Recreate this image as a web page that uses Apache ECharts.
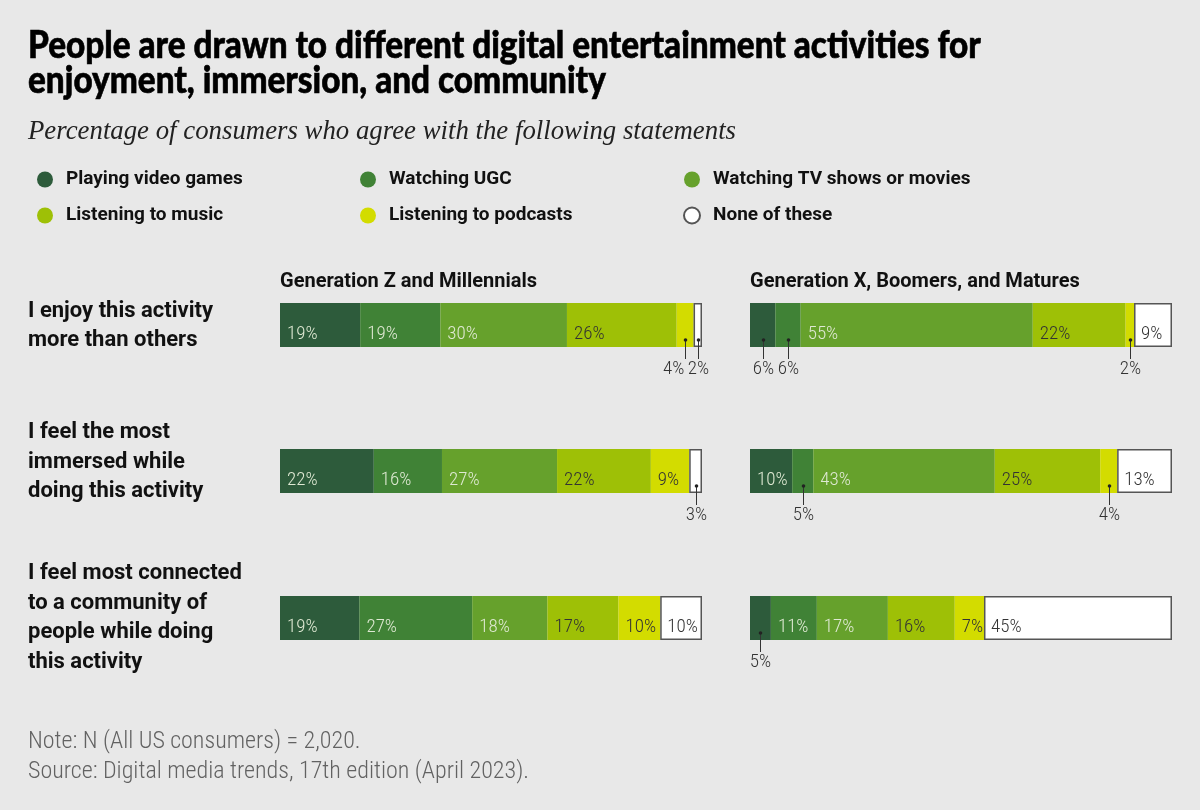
<!DOCTYPE html>
<html><head><meta charset="utf-8">
<script src="https://cdn.jsdelivr.net/npm/echarts@6/dist/echarts.min.js"></script>
<style>html,body{margin:0;padding:0;background:#e8e8e8}#c{width:1200px;height:810px}</style>
</head><body><div id="c"></div>
<script>
// ---------- data ----------
const seriesNames = ['Playing video games', 'Watching UGC', 'Watching TV shows or movies', 'Listening to music', 'Listening to podcasts', 'None of these'];
const statements = ['I enjoy this activity\nmore than others', 'I feel the most\nimmersed while\ndoing this activity', 'I feel most connected\nto a community of\npeople while doing\nthis activity'];
const groupNames = ['Generation Z and Millennials', 'Generation X, Boomers, and Matures'];
const genZMillennials = [
  [19, 19, 30, 26, 4, 2],
  [22, 16, 27, 22, 9, 3],
  [19, 27, 18, 17, 10, 10]
];
const genXBoomersMatures = [
  [6, 6, 55, 22, 2, 9],
  [10, 5, 43, 25, 4, 13],
  [5, 11, 17, 16, 7, 45]
];
const titleLines = ['People are drawn to different digital entertainment activities for', 'enjoyment, immersion, and community'];
const subtitle = 'Percentage of consumers who agree with the following statements';
const notes = ['Note: N (All US consumers) = 2,020.', 'Source: Digital media trends, 17th edition (April 2023).'];

// ---------- style / layout ----------
const colors = ['#2d5b3b', '#408236', '#66a12c', '#9ec006', '#d3dc00', '#ffffff'];
const lightLabel = '#dfe9d3', darkLabel = '#333333';
const lightFont = '"Roboto Condensed", "Liberation Sans Narrow", "DejaVu Sans Condensed", Roboto, sans-serif';
const boldFont = 'Roboto, "Liberation Sans", sans-serif';
const heavyFont = 'Lato, Roboto, sans-serif';
const groupLeft = [280, 750], barW = 422, rowTop = [303, 449, 596], barH = 44;
const rowLabelShift = [-1, 9, 0];
const outsideBelow = 7; // segments smaller than this get a callout below

const groups = [genZMillennials, genXBoomersMatures];
const grid = [], xAxis = [], yAxis = [], series = [];

groups.forEach((rows, g) => {
  rows.forEach((row, r) => {
    const idx = grid.length;
    const total = row.reduce((a, b) => a + b, 0);
    grid.push({ left: groupLeft[g], top: rowTop[r], width: barW, height: barH });
    xAxis.push({ type: 'value', gridIndex: idx, min: 0, max: total, show: false });
    yAxis.push({
      type: 'category', gridIndex: idx, data: [statements[r]], show: false
    });
    row.forEach((v, k) => {
      series.push({
        type: 'bar', name: seriesNames[k], xAxisIndex: idx, yAxisIndex: idx,
        stack: 's' + idx, barWidth: '100%',
        itemStyle: k === 5 ? { color: colors[k], borderColor: '#555', borderWidth: 1.5 } : { color: colors[k] },
        label: {
          show: v >= outsideBelow, position: 'insideBottomLeft', distance: 3, offset: [4, 0],
          formatter: '{c}%', fontFamily: lightFont, fontWeight: 300, fontSize: 19,
          color: k < 3 ? lightLabel : darkLabel
        },
        emphasis: { disabled: true },
        data: [v]
      });
    });
    // callouts for small segments
    const items = [];
    let cum = 0;
    row.forEach((v) => { if (v < outsideBelow) items.push([cum + v / 2, 0, v]); cum += v; });
    if (items.length) {
      series.push({
        type: 'custom', name: 'callout' + idx, xAxisIndex: idx, yAxisIndex: idx, z: 5,
        silent: true, data: items,
        renderItem: (params, api) => {
          const p = api.coord([api.value(0), 0]);
          const h = api.size([0, 1])[1];
          const bottom = p[1] + h / 2;
          const x = Math.round(p[0]) + 0.5;
          let align = 'center', tx = x;
          const next = items[params.dataIndex + 1];
          if (next) {
            const nx = api.coord([next[0], 0])[0];
            if (nx - p[0] < 20) { align = 'right'; tx = x - 1; }
          }
          return {
            type: 'group', children: [
              { type: 'line', shape: { x1: x, y1: bottom - 7, x2: x, y2: bottom + 12 }, style: { stroke: '#333', lineWidth: 1 } },
              { type: 'circle', shape: { cx: x, cy: bottom - 7, r: 1.8 }, style: { fill: '#222' } },
              { type: 'text', x: tx, y: bottom + 22, style: { text: api.value(2) + '%', align: align, verticalAlign: 'middle', fontFamily: lightFont, fontWeight: 300, fontSize: 19, fill: '#333' } }
            ]
          };
        }
      });
    }
  });
});

const legend = [0, 1, 2].map(c => ({
  orient: 'vertical', left: 32 + c * 323, top: 165, itemWidth: 16, itemHeight: 16, itemGap: 17,
  icon: 'circle', selectedMode: false, data: [seriesNames[c], seriesNames[c + 3]],
  textStyle: { fontFamily: boldFont, fontWeight: 'bold', fontSize: 19, color: '#111', padding: [0, 0, 0, 8] }
}));

const heavy = { fontFamily: heavyFont, fontWeight: 900, fontSize: 37, fill: '#000', stroke: '#000', lineWidth: 0.6, verticalAlign: 'middle' };
const graphic = [
  { type: 'text', x: 28, y: 46, scaleX: 0.9, style: Object.assign({ text: titleLines[0] }, heavy) },
  { type: 'text', x: 28, y: 81, scaleX: 0.9, style: Object.assign({ text: titleLines[1] }, heavy) },
  { type: 'text', x: 28, y: 132, style: { text: subtitle, fontFamily: '"Liberation Serif", "DejaVu Serif", serif', fontStyle: 'italic', fontSize: 26.8, fill: '#222', verticalAlign: 'middle' } },
  { type: 'text', x: groupLeft[0], y: 282, style: { text: groupNames[0], fontFamily: boldFont, fontWeight: 'bold', fontSize: 20, fill: '#111', verticalAlign: 'middle' } },
  { type: 'text', x: groupLeft[1], y: 282, style: { text: groupNames[1], fontFamily: boldFont, fontWeight: 'bold', fontSize: 20, fill: '#111', verticalAlign: 'middle' } },
  { type: 'text', x: 28, y: 742, style: { text: notes[0], fontFamily: lightFont, fontWeight: 300, fontSize: 24, fill: '#626262', verticalAlign: 'middle' } },
  { type: 'text', x: 28, y: 772, style: { text: notes[1], fontFamily: lightFont, fontWeight: 300, fontSize: 24, fill: '#626262', verticalAlign: 'middle' } }
];
statements.forEach((s, r) => {
  graphic.push({
    type: 'text', x: 28, y: rowTop[r] + barH / 2 - rowLabelShift[r],
    style: { text: s, fontFamily: boldFont, fontWeight: 'bold', fontSize: 22, lineHeight: 29.5, fill: '#111', verticalAlign: 'middle' }
  });
});

const chart = echarts.init(document.getElementById('c'), null, { renderer: 'canvas' });
chart.setOption({
  backgroundColor: '#e8e8e8', animation: false,
  grid, xAxis, yAxis, series, legend, graphic
});
</script>
</body></html>
